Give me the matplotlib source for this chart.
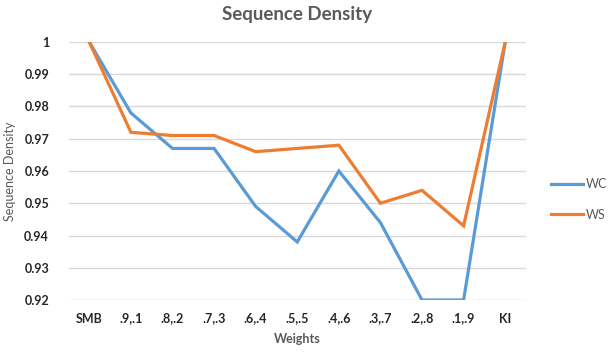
import matplotlib.pyplot as plt

categories = ['SMB', '.9,.1', '.8,.2', '.7,.3', '.6,.4', '.5,.5', '.4,.6', '.3,.7', '.2,.8', '.1,.9', 'KI']
wc = [1.0, 0.978, 0.967, 0.967, 0.949, 0.938, 0.960, 0.944, 0.920, 0.920, 1.0]
ws = [1.0, 0.972, 0.971, 0.971, 0.966, 0.967, 0.968, 0.950, 0.954, 0.943, 1.0]
yticks = [0.92, 0.93, 0.94, 0.95, 0.96, 0.97, 0.98, 0.99, 1]
ytick_labels = ['0.92', '0.93', '0.94', '0.95', '0.96', '0.97', '0.98', '0.99', '1']

plt.rcParams['font.family'] = ['Lato', 'DejaVu Sans']

fig = plt.figure(figsize=(6.09, 3.52), dpi=100)
ax = fig.add_axes([0.1125, 0.1477, 0.7512, 0.733])

x = range(len(categories))
ax.plot(x, wc, color='#5B9BD5', lw=2.3, label='WC', solid_joinstyle='miter')
ax.plot(x, ws, color='#ED7D31', lw=2.3, label='WS', solid_joinstyle='miter')

ax.set_xlim(-0.5, len(categories) - 0.5)
ax.set_ylim(0.92, 1.0)
ax.set_yticks(yticks)
ax.set_yticklabels(ytick_labels)
ax.set_xticks(list(x))
ax.set_xticklabels(categories)
for lab in ax.get_xticklabels() + ax.get_yticklabels():
    lab.set_fontweight('bold')
    lab.set_fontsize(9)
    lab.set_color('#262626')

ax.grid(axis='y', color='#d9d9d9', lw=1)
ax.set_axisbelow(True)
for s in ax.spines.values():
    s.set_visible(False)
ax.tick_params(length=0)
ax.tick_params(axis='x', pad=9)
ax.tick_params(axis='y', pad=14)

ax.set_title('Sequence Density', fontsize=13.5, fontweight='bold', color='#595959', pad=16)
ax.set_xlabel('Weights', fontsize=9, fontweight='bold', color='#595959', labelpad=6)
ax.set_ylabel('Sequence Density', fontsize=9, color='#595959', labelpad=6)

ax.legend(loc='center left', bbox_to_anchor=(1.03, 0.39), frameon=False,
          handlelength=2.6, labelspacing=1.5, handletextpad=0.2,
          labelcolor='#595959', fontsize=9)

fig.savefig('out.png', dpi=100)
